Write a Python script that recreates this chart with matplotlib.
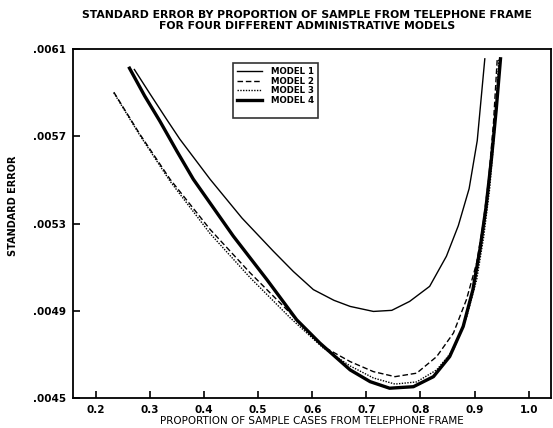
import matplotlib.pyplot as plt
from matplotlib.lines import Line2D

# data (proportion from telephone frame, standard error)
m1_x = [0.271, 0.300, 0.330, 0.355, 0.411, 0.470, 0.528, 0.565, 0.602, 0.640, 0.670, 0.713, 0.747,
        0.780, 0.817, 0.848, 0.870, 0.890, 0.905, 0.919]
m1_y = [0.006006, 0.005894, 0.005780, 0.005687, 0.005503, 0.005325, 0.005173, 0.005080, 0.004997,
        0.004948, 0.004920, 0.004897, 0.004902, 0.004943, 0.005012, 0.005150, 0.005290, 0.005460,
        0.005680, 0.006055]

m2_x = [0.233, 0.281, 0.337, 0.411, 0.485, 0.559, 0.620, 0.670, 0.713, 0.753, 0.793, 0.830, 0.861,
        0.885, 0.904, 0.916, 0.926, 0.935, 0.942]
m2_y = [0.005902, 0.005710, 0.005503, 0.005273, 0.005074, 0.004890, 0.004736, 0.004667, 0.004621,
        0.004598, 0.004614, 0.004690, 0.004798, 0.004951, 0.005120, 0.005300, 0.005500, 0.005760,
        0.006055]

m3_x = [0.233, 0.281, 0.337, 0.411, 0.485, 0.559, 0.620, 0.670, 0.713, 0.753, 0.793, 0.830, 0.861,
        0.885, 0.904, 0.917, 0.928, 0.937, 0.945]
m3_y = [0.005899, 0.005705, 0.005494, 0.005254, 0.005052, 0.004868, 0.004730, 0.004647, 0.004592,
        0.004564, 0.004574, 0.004629, 0.004721, 0.004868, 0.005043, 0.005240, 0.005460, 0.005720,
        0.006055]

m4_x = [0.262, 0.290, 0.318, 0.350, 0.380, 0.454, 0.516, 0.571, 0.614, 0.670, 0.707, 0.743, 0.787,
        0.824, 0.854, 0.879, 0.897, 0.910, 0.921, 0.931, 0.940, 0.948]
m4_y = [0.006012, 0.005885, 0.005770, 0.005630, 0.005503, 0.005242, 0.005043, 0.004859, 0.004752,
        0.004629, 0.004575, 0.004545, 0.004552, 0.004598, 0.004690, 0.004828, 0.004997, 0.005181,
        0.005370, 0.005590, 0.005820, 0.006055]

x_ticks = [0.2, 0.3, 0.4, 0.5, 0.6, 0.7, 0.8, 0.9, 1.0]
y_ticks = [0.0045, 0.0049, 0.0053, 0.0057, 0.0061]
y_tick_labels = ['.0045', '.0049', '.0053', '.0057', '.0061']

plt.rcParams['font.family'] = 'DejaVu Sans'
plt.rcParams['font.weight'] = 'bold'

fig = plt.figure(figsize=(5.53, 4.28), dpi=100)
ax = fig.add_axes([0.1315, 0.070, 0.8645, 0.8155])

ax.plot(m1_x, m1_y, color='black', lw=1.0, label='MODEL 1')
ax.plot(m2_x, m2_y, color='black', lw=1.0, ls=(0, (4, 2)), label='MODEL 2')
ax.plot(m3_x, m3_y, color='black', lw=1.0, ls=(0, (1, 1)), label='MODEL 3')
ax.plot(m4_x, m4_y, color='black', lw=2.4, label='MODEL 4')

ax.set_xlim(0.157, 1.041)
ax.set_ylim(0.0045, 0.0061)
ax.set_xticks(x_ticks)
ax.set_xticklabels([f'{v:.1f}' for v in x_ticks])
ax.set_yticks(y_ticks)
ax.set_yticklabels(y_tick_labels)
ax.tick_params(direction='in', length=5, width=1.2, labelsize=7.5, pad=5)
for s in ax.spines.values():
    s.set_linewidth(1.3)

ax.set_xlabel('PROPORTION OF SAMPLE CASES FROM TELEPHONE FRAME', fontsize=7.5, labelpad=1)
fig.text(0.024, 0.52, 'STANDARD ERROR', rotation=90, fontsize=7, ha='center', va='center')

fig.text(0.555, 0.965, 'STANDARD ERROR BY PROPORTION OF SAMPLE FROM TELEPHONE FRAME',
         fontsize=7.8, ha='center', va='center')
fig.text(0.555, 0.940, 'FOR FOUR DIFFERENT ADMINISTRATIVE MODELS',
         fontsize=7.8, ha='center', va='center')

handles, labels = ax.get_legend_handles_labels()
handles.append(Line2D([], [], color='none'))
labels.append(' ')
leg = ax.legend(handles, labels, loc='upper left', bbox_to_anchor=(233 / 553, 1 - 63 / 428),
                bbox_transform=fig.transFigure, fontsize=6.2, frameon=True, fancybox=False,
                edgecolor='black', handlelength=2.9, labelspacing=0.05, borderpad=0.5,
                handletextpad=1.0, borderaxespad=0)
leg.get_frame().set_linewidth(1.2)

fig.savefig('out.png', dpi=100)
